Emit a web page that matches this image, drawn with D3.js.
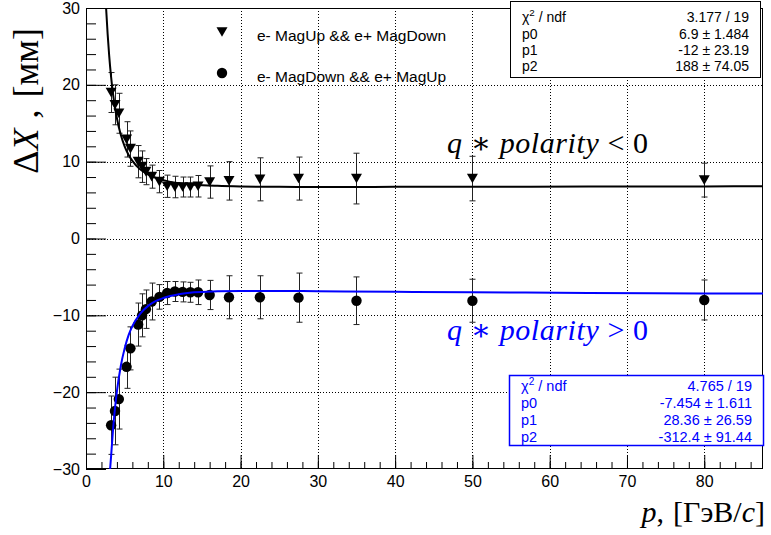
<!doctype html>
<html lang="en">

<head>
  <meta charset="utf-8">
  <title>ΔX vs p</title>
  <style>
    html, body { margin: 0; padding: 0; background: #fff; }
    svg { display: block; }
    .sans { font-family: "Liberation Sans", Arial, Helvetica, sans-serif; }
    .serif { font-family: "Liberation Serif", "Times New Roman", "DejaVu Serif", serif; }
  </style>
</head>

<body>
  <div id="chart"></div>

  <script src="https://d3js.org/d3.v7.min.js"></script>
  <script>
    // Data ------------------------------------------------------------------------------------------------------------
    const momentum = [3.25, 3.75, 4.25, 5.25, 5.75, 6.75, 7.25, 7.75, 8.5, 9.5, 10.5, 11.5, 12.5, 13.5, 14.5,
      16, 18.5, 22.5, 27.5, 35, 50, 80];

    // e- MagUp && e+ MagDown (q*polarity < 0)
    const dxUp = [19.0, 17.4, 16.3, 12.9, 11.7, 10.0, 9.35, 8.7, 8.05, 7.4, 6.8, 6.7, 6.7, 6.7, 6.8,
      7.35, 7.5, 7.7, 7.8, 7.8, 7.8, 7.6];
    const errUp = [2.6, 2.6, 2.6, 2.3, 2.3, 2.1, 2.05, 1.7, 1.5, 1.45, 1.45, 1.4, 1.3, 1.3, 1.4,
      2.1, 2.5, 2.8, 2.8, 3.3, 2.9, 2.2];

    // e- MagDown && e+ MagUp (q*polarity > 0)
    const dxDown = [-24.3, -22.45, -20.9, -16.7, -14.3, -11.2, -10.0, -9.2, -8.2, -7.6, -7.1, -6.9, -6.95, -7.0, -7.0,
      -7.35, -7.65, -7.65, -7.7, -8.1, -8.1, -8.0];
    const errDown = [3.8, 4.4, 3.9, 2.8, 2.8, 2.8, 2.8, 2.5, 2.4, 1.6, 1.5, 1.3, 1.3, 1.3, 1.6,
      1.9, 2.8, 2.8, 3.2, 3.1, 2.8, 2.6];

    // fit curves
    const fitUpP = [2.6, 2.8, 3, 3.25, 3.5, 3.75, 4, 4.5, 5, 5.5, 6, 7, 8, 9, 10, 12, 14, 17, 20, 25, 30, 40, 50, 65, 80, 87.6];
    const fitUpV = [30, 26.6, 23.8, 21.0, 18.8, 17.1, 15.65, 13.5, 12.0, 10.9, 10.1, 9.0, 8.35, 7.9, 7.6, 7.2, 7.0,
      6.85, 6.77, 6.72, 6.71, 6.72, 6.74, 6.76, 6.78, 6.79];
    const fitDownP = [3.12, 3.25, 3.5, 3.75, 4, 4.5, 5, 5.5, 6, 7, 8, 9, 10, 12, 14, 17, 20, 25, 30, 40, 50, 65, 80, 87.6];
    const fitDownV = [-30, -28.3, -24.85, -22.1, -19.9, -16.6, -14.3, -12.6, -11.4, -9.8, -8.8, -8.15, -7.75, -7.25,
      -7.0, -6.87, -6.82, -6.82, -6.86, -6.94, -7.0, -7.09, -7.15, -7.17];

    const xTicks = [0, 10, 20, 30, 40, 50, 60, 70, 80];
    const yTicks = [-30, -20, -10, 0, 10, 20, 30];

    const statLabels = ["χ", "p0", "p1", "p2"];
    const statsUp = ["3.177 / 19", "6.9 ± 1.484", "-12 ± 23.19", "188 ± 74.05"];
    const statsDown = ["4.765 / 19", "-7.454 ± 1.611", "28.36 ± 26.59", "-312.4 ± 91.44"];
    const legendLabels = ["e- MagUp && e+ MagDown", "e- MagDown && e+ MagUp"];

    // Canvas ----------------------------------------------------------------------------------------------------------
    const width = 771;
    const height = 535;
    const frame = { left: 86, right: 763, top: 8, bottom: 469 };

    const svg = d3.select("#chart")
      .append("svg")
      .attr("width", width)
      .attr("height", height);

    const x = d3.scaleLinear().domain([0, 87.6]).range([frame.left, frame.right]);
    const y = d3.scaleLinear().domain([-30, 30]).range([frame.bottom, frame.top]);

    svg.append("defs")
      .append("clipPath")
      .attr("id", "frame-clip")
      .append("rect")
      .attr("x", frame.left)
      .attr("y", frame.top)
      .attr("width", frame.right - frame.left)
      .attr("height", frame.bottom - frame.top);

    // Grid ------------------------------------------------------------------------------------------------------------
    const grid = svg.append("g")
      .attr("stroke", "#000")
      .attr("stroke-width", 1)
      .attr("stroke-dasharray", "1,2");

    grid.selectAll(".gx")
      .data(xTicks.filter(d => d > 0))
      .enter()
      .append("line")
      .attr("x1", d => Math.round(x(d)) + 0.5)
      .attr("x2", d => Math.round(x(d)) + 0.5)
      .attr("y1", frame.top)
      .attr("y2", frame.bottom);

    grid.selectAll(".gy")
      .data(yTicks.filter(d => d > -30 && d < 30))
      .enter()
      .append("line")
      .attr("y1", d => Math.round(y(d)) + 0.5)
      .attr("y2", d => Math.round(y(d)) + 0.5)
      .attr("x1", frame.left)
      .attr("x2", frame.right);

    // Axes ------------------------------------------------------------------------------------------------------------
    const xAxis = svg.append("g")
      .attr("transform", "translate(0," + frame.bottom + ")")
      .call(d3.axisBottom(x).tickValues(xTicks).tickSize(-14).tickPadding(7).tickFormat(d3.format("d")));
    svg.append("g")
      .attr("transform", "translate(0," + frame.bottom + ")")
      .call(d3.axisBottom(x).tickValues(d3.range(0, 87.6, 2)).tickSize(-7).tickFormat(""));

    const yAxis = svg.append("g")
      .attr("transform", "translate(" + frame.left + ",0)")
      .call(d3.axisLeft(y).tickValues(yTicks).tickSize(-20).tickPadding(6).tickFormat(d3.format("d")));
    svg.append("g")
      .attr("transform", "translate(" + frame.left + ",0)")
      .call(d3.axisLeft(y).tickValues(d3.range(-30, 31, 2)).tickSize(-10).tickFormat(""));

    svg.selectAll(".domain").remove();
    svg.selectAll(".tick line").attr("stroke", "#000");
    [xAxis, yAxis].forEach(a => a.selectAll("text")
      .attr("class", "sans")
      .style("font-size", "16px")
      .attr("fill", "#000"));

    svg.append("rect")
      .attr("x", frame.left + 0.5)
      .attr("y", frame.top + 0.5)
      .attr("width", frame.right - frame.left - 1)
      .attr("height", frame.bottom - frame.top - 1)
      .attr("fill", "none")
      .attr("stroke", "#000")
      .attr("stroke-width", 1);

    // Axis titles -----------------------------------------------------------------------------------------------------
    const xTitle = svg.append("text")
      .attr("class", "serif")
      .attr("x", 765)
      .attr("y", 522)
      .attr("text-anchor", "end")
      .style("font-size", "30px");
    xTitle.append("tspan").style("font-style", "italic").text("p");
    xTitle.append("tspan").text(",");
    xTitle.append("tspan").attr("dx", 9).text("[ГэВ/");
    xTitle.append("tspan").style("font-style", "italic").text("c");
    xTitle.append("tspan").text("]");

    const yTitle = svg.append("text")
      .attr("class", "serif")
      .attr("transform", "translate(38,28) rotate(-90)")
      .attr("text-anchor", "end")
      .style("font-size", "36px");
    yTitle.append("tspan").text("Δ");
    yTitle.append("tspan").style("font-style", "italic").text("X");
    yTitle.append("tspan").attr("dx", 10).text(",");
    yTitle.append("tspan").attr("dx", 12).text("[мм]");

    // Data points -----------------------------------------------------------------------------------------------------
    const triangleDown = "M-5.5,-4.8L5.5,-4.8L0,4.8Z";

    function drawErrors(values, errors) {
      const g = svg.append("g").attr("stroke", "#222").attr("stroke-width", 1);
      momentum.forEach((p, i) => {
        const px = Math.round(x(p)) + 0.5;
        const top = y(values[i] + errors[i]);
        const bot = y(values[i] - errors[i]);
        g.append("line").attr("x1", px).attr("x2", px).attr("y1", top).attr("y2", bot);
        g.append("line").attr("x1", px - 3).attr("x2", px + 3).attr("y1", top).attr("y2", top);
        g.append("line").attr("x1", px - 3).attr("x2", px + 3).attr("y1", bot).attr("y2", bot);
      });
    }

    drawErrors(dxUp, errUp);
    drawErrors(dxDown, errDown);

    svg.append("g")
      .selectAll("path")
      .data(momentum)
      .enter()
      .append("path")
      .attr("d", triangleDown)
      .attr("transform", (p, i) => "translate(" + x(p) + "," + y(dxUp[i]) + ")")
      .attr("fill", "#000");

    svg.append("g")
      .selectAll("circle")
      .data(momentum)
      .enter()
      .append("circle")
      .attr("cx", p => x(p))
      .attr("cy", (p, i) => y(dxDown[i]))
      .attr("r", 5.2)
      .attr("fill", "#000");

    // Fit curves ------------------------------------------------------------------------------------------------------
    const line = d3.line()
      .x(d => x(d[0]))
      .y(d => y(d[1]))
      .curve(d3.curveMonotoneX);

    svg.append("path")
      .datum(fitUpP.map((p, i) => [p, fitUpV[i]]))
      .attr("d", line)
      .attr("clip-path", "url(#frame-clip)")
      .attr("fill", "none")
      .attr("stroke", "#000")
      .attr("stroke-width", 2);

    svg.append("path")
      .datum(fitDownP.map((p, i) => [p, fitDownV[i]]))
      .attr("d", line)
      .attr("clip-path", "url(#frame-clip)")
      .attr("fill", "none")
      .attr("stroke", "#0000ff")
      .attr("stroke-width", 2);

    // Annotations -----------------------------------------------------------------------------------------------------
    function polarityLabel(yPos, sign, color) {
      const t = svg.append("text")
        .attr("class", "serif")
        .attr("x", 447)
        .attr("y", yPos)
        .attr("fill", color)
        .style("font-size", "30px")
        .attr("textLength", 201)
        .attr("lengthAdjust", "spacing");
      t.append("tspan").style("font-style", "italic").text("q");
      t.append("tspan").text(" ∗ ");
      t.append("tspan").style("font-style", "italic").text("polarity");
      t.append("tspan").text(" " + sign + " 0");
    }
    polarityLabel(153, "<", "#000");
    polarityLabel(340, ">", "#0000ff");

    // Legend ----------------------------------------------------------------------------------------------------------
    svg.append("path")
      .attr("d", triangleDown)
      .attr("transform", "translate(222,32)")
      .attr("fill", "#000");
    svg.append("circle")
      .attr("cx", 222)
      .attr("cy", 73)
      .attr("r", 5.2)
      .attr("fill", "#000");
    svg.selectAll(".legend-label")
      .data(legendLabels)
      .enter()
      .append("text")
      .attr("class", "sans")
      .attr("x", 257)
      .attr("y", (d, i) => 41 + i * 41)
      .style("font-size", "15.5px")
      .text(d => d);

    // Stats boxes -----------------------------------------------------------------------------------------------------
    function statsBox(box, values, color, strokeWidth, fontSize, rows) {
      const g = svg.append("g");
      g.append("rect")
        .attr("x", box.x0 + 0.5)
        .attr("y", box.y0 + 0.5)
        .attr("width", box.x1 - box.x0)
        .attr("height", box.y1 - box.y0)
        .attr("fill", "#fff")
        .attr("stroke", color)
        .attr("stroke-width", strokeWidth);
      statLabels.forEach((lab, i) => {
        const yy = rows[i] + fontSize * 0.36;
        const t = g.append("text")
          .attr("class", "sans")
          .attr("x", box.x0 + 12)
          .attr("y", yy)
          .attr("fill", color)
          .style("font-size", fontSize + "px")
          .text(lab);
        if (i === 0) {
          t.append("tspan").attr("dy", -6).style("font-size", (fontSize * 0.7) + "px").text("2");
          t.append("tspan").attr("dy", 6).text(" / ndf");
        }
        g.append("text")
          .attr("class", "sans")
          .attr("x", box.x1 - 11)
          .attr("y", yy)
          .attr("text-anchor", "end")
          .attr("fill", color)
          .style("font-size", fontSize + "px")
          .text(values[i]);
      });
    }

    statsBox({ x0: 510, x1: 760, y0: 1, y1: 77 }, statsUp, "#000", 1, 14, [17, 33.5, 50, 65.5]);
    statsBox({ x0: 509, x1: 763, y0: 375, y1: 445 }, statsDown, "#0000ff", 1.5, 14.5, [386, 403, 420, 437]);
  </script>

</body>

</html>
